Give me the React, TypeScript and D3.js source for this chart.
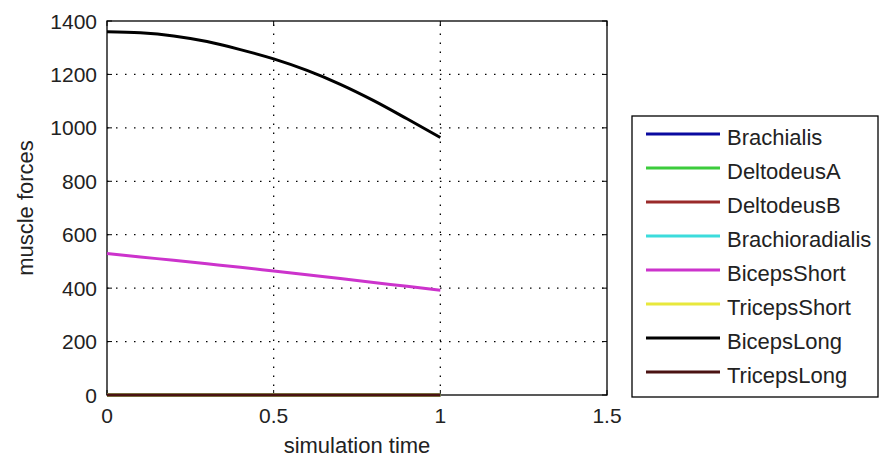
import React from "react";
import * as d3 from "d3";

const times = [0, 0.1, 0.2, 0.3, 0.4, 0.5, 0.6, 0.7, 0.8, 0.9, 1.0];
const brachialis = [0, 0, 0, 0, 0, 0, 0, 0, 0, 0, 0];
const deltodeusA = [0, 0, 0, 0, 0, 0, 0, 0, 0, 0, 0];
const deltodeusB = [0, 0, 0, 0, 0, 0, 0, 0, 0, 0, 0];
const brachioradialis = [0, 0, 0, 0, 0, 0, 0, 0, 0, 0, 0];
const bicepsShort = [530, 517, 504, 491, 478, 464, 450, 436, 421, 407, 392];
const tricepsShort = [0, 0, 0, 0, 0, 0, 0, 0, 0, 0, 0];
const bicepsLong = [1360, 1356, 1344, 1323, 1293, 1258, 1215, 1163, 1102, 1034, 964];
const tricepsLong = [0, 0, 0, 0, 0, 0, 0, 0, 0, 0, 0];

const seriesNames = [
  "Brachialis",
  "DeltodeusA",
  "DeltodeusB",
  "Brachioradialis",
  "BicepsShort",
  "TricepsShort",
  "BicepsLong",
  "TricepsLong",
];
const seriesValues = [
  brachialis,
  deltodeusA,
  deltodeusB,
  brachioradialis,
  bicepsShort,
  tricepsShort,
  bicepsLong,
  tricepsLong,
];
const seriesColors = [
  "#0a0aa0",
  "#3ccc3c",
  "#9a2a2a",
  "#3cdcdc",
  "#cc33cc",
  "#e8e83c",
  "#000000",
  "#4a1212",
];

const xTicks = [0, 0.5, 1, 1.5];
const yTicks = [0, 200, 400, 600, 800, 1000, 1200, 1400];
const xLabel = "simulation time";
const yLabel = "muscle forces";

const W = 880;
const H = 461;
const FONT = "'Liberation Sans', Arial, sans-serif";

export default function App() {
  const x = d3.scaleLinear().domain([0, 1.5]).range([107, 607]);
  const y = d3.scaleLinear().domain([0, 1400]).range([395, 21]);
  const [x0, x1] = x.range();
  const [y0, y1] = y.range();
  const line = (vals: number[]) =>
    d3
      .line<number>()
      .x((_, i) => x(times[i]))
      .y((v) => y(v))
      .curve(d3.curveMonotoneX)(vals) || "";

  const legX = 632;
  const legY = 116;
  const legW = 246;
  const legH = 281;
  const rowY = (i: number) => 134 + i * 34;

  return (
    <svg
      width={W}
      height={H}
      style={{ position: "absolute", left: 0, top: 0, background: "#fff" }}
      fontFamily={FONT}
    >
      <rect x={0} y={0} width={W} height={H} fill="#fff" />
      {/* grid */}
      {xTicks
        .filter((t) => t > 0 && t < 1.5)
        .map((t) => (
          <line
            key={"gx" + t}
            x1={x(t)}
            x2={x(t)}
            y1={y0}
            y2={y1}
            stroke="#000"
            strokeWidth={1.3}
            strokeDasharray="1.5 7.5"
          />
        ))}
      {yTicks
        .filter((t) => t > 0 && t < 1400)
        .map((t) => (
          <line
            key={"gy" + t}
            x1={x0}
            x2={x1}
            y1={y(t)}
            y2={y(t)}
            stroke="#000"
            strokeWidth={1.3}
            strokeDasharray="1.5 7.5"
          />
        ))}
      {/* ticks inward */}
      {xTicks.map((t) => (
        <g key={"tx" + t}>
          <line x1={x(t)} x2={x(t)} y1={y0} y2={y0 - 5} stroke="#000" />
          <line x1={x(t)} x2={x(t)} y1={y1} y2={y1 + 5} stroke="#000" />
          <text
            x={x(t)}
            y={423}
            fontSize={21}
            textAnchor="middle"
            fill="#222"
          >
            {String(t)}
          </text>
        </g>
      ))}
      {yTicks.map((t) => (
        <g key={"ty" + t}>
          <line x1={x0} x2={x0 + 5} y1={y(t)} y2={y(t)} stroke="#000" />
          <line x1={x1} x2={x1 - 5} y1={y(t)} y2={y(t)} stroke="#000" />
          <text
            x={97}
            y={y(t) + 7.5}
            fontSize={21}
            textAnchor="end"
            fill="#222"
          >
            {String(t)}
          </text>
        </g>
      ))}
      {/* box */}
      <rect
        x={x0}
        y={y1}
        width={x1 - x0}
        height={y0 - y1}
        fill="none"
        stroke="#000"
        strokeWidth={1.3}
      />
      {/* lines */}
      {seriesValues.map((vals, i) => (
        <path
          key={"s" + i}
          d={line(vals)}
          fill="none"
          stroke={seriesColors[i]}
          strokeWidth={3}
        />
      ))}
      {/* axis labels */}
      <text x={(x0 + x1) / 2} y={453} fontSize={22} textAnchor="middle" fill="#222">
        {xLabel}
      </text>
      <text
        transform={`translate(33, ${(y0 + y1) / 2}) rotate(-90)`}
        fontSize={22}
        textAnchor="middle"
        fill="#222"
      >
        {yLabel}
      </text>
      {/* legend */}
      <rect
        x={legX}
        y={legY}
        width={legW}
        height={legH}
        fill="#fff"
        stroke="#000"
        strokeWidth={1.3}
      />
      {seriesNames.map((n, i) => (
        <g key={"l" + i}>
          <line
            x1={646}
            x2={720}
            y1={rowY(i)}
            y2={rowY(i)}
            stroke={seriesColors[i]}
            strokeWidth={3}
          />
          <text x={727} y={rowY(i) + 11} fontSize={22} fill="#222">
            {n}
          </text>
        </g>
      ))}
    </svg>
  );
}
